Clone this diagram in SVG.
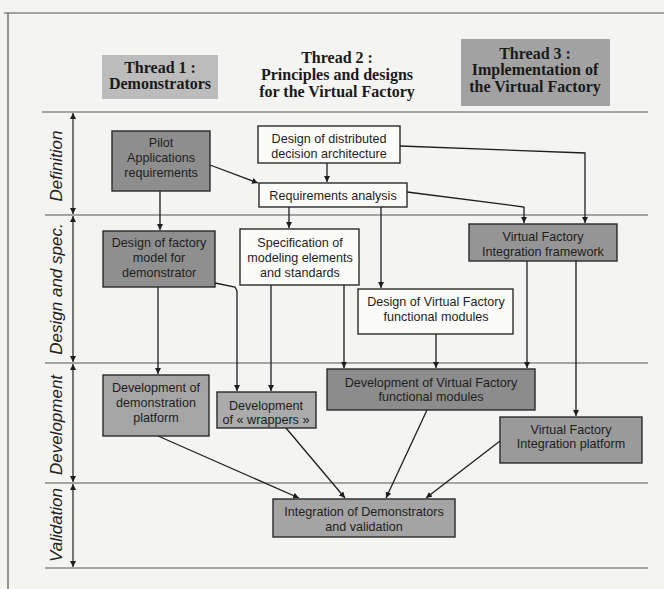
<svg xmlns="http://www.w3.org/2000/svg" width="664" height="589" viewBox="0 0 664 589">
<defs>
<marker id="ah" viewBox="0 0 10 10" refX="10" refY="5" markerWidth="6" markerHeight="6" markerUnits="userSpaceOnUse" orient="auto-start-reverse">
<path d="M0,0 L10,5 L0,10 z" fill="#1e1e1e"/>
</marker>
<style>
.bg{fill:#f4f4f2}
.frame{stroke:#555;stroke-width:1.2;fill:none}
.sep{stroke:#555;stroke-width:1;fill:none}
.lane{stroke:#222;stroke-width:1.2;fill:none;marker-start:url(#ah);marker-end:url(#ah)}
.lanelbl{font-family:"Liberation Sans",Arial,sans-serif;font-style:italic;font-size:17px;fill:#222;text-anchor:middle}
.hdr{font-family:"Liberation Serif","Times New Roman",serif;font-weight:bold;font-size:16px;fill:#1a1a1a;text-anchor:middle}
.box{stroke:#2a2a2a;stroke-width:1.4}
.white{fill:#fbfbfa}
.t{font-family:"Liberation Sans",Arial,sans-serif;font-size:12.6px;fill:#1e1e1e;text-anchor:middle}
.c{stroke:#1e1e1e;stroke-width:1.3;fill:none;marker-end:url(#ah)}
</style>
</defs>
<rect class="bg" x="0" y="0" width="664" height="589"/>
<line class="frame" x1="4" y1="13" x2="664" y2="13"/>
<line class="frame" x1="8" y1="13" x2="8" y2="589"/>

<g id="lanes">
<line class="sep" x1="42" y1="112" x2="648" y2="112"/>
<line class="sep" x1="45" y1="215" x2="648" y2="215"/>
<line class="sep" x1="45" y1="363" x2="648" y2="363"/>
<line class="sep" x1="45" y1="483" x2="648" y2="483"/>
<line class="sep" x1="45" y1="568" x2="648" y2="568"/>
<line class="lane" x1="73" y1="113" x2="73" y2="214"/>
<line class="lane" x1="73" y1="216" x2="73" y2="362"/>
<line class="lane" x1="73" y1="364" x2="73" y2="482"/>
<line class="lane" x1="73" y1="484" x2="73" y2="567"/>
<text class="lanelbl" transform="translate(62,166) rotate(-90)">Definition</text>
<text class="lanelbl" transform="translate(62,289) rotate(-90)">Design and spec.</text>
<text class="lanelbl" transform="translate(62,425) rotate(-90)">Development</text>
<text class="lanelbl" transform="translate(62,525) rotate(-90)">Validation</text>
</g>

<g id="thread1">
<rect x="102" y="55" width="116" height="44" fill="#bcbcbc"/>
<text class="hdr" x="160" y="73">Thread 1 :</text>
<text class="hdr" x="160" y="89">Demonstrators</text>
</g>
<g id="thread2">
<text class="hdr" x="337" y="63">Thread 2 :</text>
<text class="hdr" x="337" y="80">Principles and designs</text>
<text class="hdr" x="337" y="97">for the Virtual Factory</text>
</g>
<g id="thread3">
<rect x="461" y="39" width="149" height="67" fill="#a2a2a2"/>
<text class="hdr" x="535" y="59">Thread 3 :</text>
<text class="hdr" x="535" y="75">Implementation of</text>
<text class="hdr" x="535" y="92">the Virtual Factory</text>
</g>

<g id="connectors">
<path class="c" d="M160,191 L160,230"/>
<path class="c" d="M210,165 L258,183"/>
<path class="c" d="M327,163 L327,182"/>
<path class="c" d="M400,146 L585,153 L585,223"/>
<path class="c" d="M407,192 L524,207 L524,223"/>
<path class="c" d="M289,207 L289,228"/>
<path class="c" d="M381,207 L381,288"/>
<path class="c" d="M158,287 L158,374"/>
<path class="c" d="M215,283 L235,287 L237,291 L237,391"/>
<path class="c" d="M271,285 L271,391"/>
<path class="c" d="M344,285 L344,368"/>
<path class="c" d="M436,334 L436,368"/>
<path class="c" d="M527,261 L527,368"/>
<path class="c" d="M576,261 L576,416"/>
<path class="c" d="M158,436 L299,498"/>
<path class="c" d="M286,428 L345,498"/>
<path class="c" d="M427,410 L386,498"/>
<path class="c" d="M500,441 L426,498"/>
</g>

<g id="pilot">
<rect class="box" x="112" y="131" width="98" height="60" fill="#8e8e8e"/>
<text class="t" x="161" y="147">Pilot</text>
<text class="t" x="161" y="162">Applications</text>
<text class="t" x="161" y="177">requirements</text>
</g>
<g id="design-distributed">
<rect class="box white" x="258" y="126" width="142" height="37"/>
<text class="t" x="329" y="143">Design of distributed</text>
<text class="t" x="329" y="158">decision architecture</text>
</g>
<g id="requirements">
<rect class="box white" x="259" y="183" width="148" height="24"/>
<text class="t" x="333" y="200">Requirements analysis</text>
</g>
<g id="design-factory">
<rect class="box" x="103" y="231" width="112" height="56" fill="#8f8f8f"/>
<text class="t" x="159" y="247">Design of factory</text>
<text class="t" x="159" y="262">model for</text>
<text class="t" x="159" y="277">demonstrator</text>
</g>
<g id="specification">
<rect class="box white" x="240" y="229" width="119" height="56"/>
<text class="t" x="300" y="247">Specification of</text>
<text class="t" x="300" y="262">modeling elements</text>
<text class="t" x="300" y="277">and standards</text>
</g>
<g id="vf-framework">
<rect class="box" x="469" y="224" width="148" height="37" fill="#959595"/>
<text class="t" x="543" y="241">Virtual Factory</text>
<text class="t" x="543" y="256">Integration framework</text>
</g>
<g id="design-vf-modules">
<rect class="box white" x="358" y="289" width="155" height="45"/>
<text class="t" x="436" y="306">Design of Virtual Factory</text>
<text class="t" x="436" y="321">functional modules</text>
</g>
<g id="dev-demo">
<rect class="box" x="103" y="375" width="106" height="61" fill="#a5a5a5"/>
<text class="t" x="156" y="392">Development of</text>
<text class="t" x="156" y="407">demonstration</text>
<text class="t" x="156" y="422">platform</text>
</g>
<g id="dev-wrappers">
<rect class="box" x="217" y="392" width="99" height="36" fill="#ababab"/>
<text class="t" x="266" y="410">Development</text>
<text class="t" x="266" y="424">of « wrappers »</text>
</g>
<g id="dev-vf-modules">
<rect class="box" x="327" y="369" width="208" height="41" fill="#8c8c8c"/>
<text class="t" x="431" y="387">Development of Virtual Factory</text>
<text class="t" x="431" y="401">functional modules</text>
</g>
<g id="vf-platform">
<rect class="box" x="500" y="417" width="142" height="46" fill="#9a9a9a"/>
<text class="t" x="571" y="434">Virtual Factory</text>
<text class="t" x="571" y="448">Integration platform</text>
</g>
<g id="integration">
<rect class="box" x="273" y="499" width="182" height="38" fill="#a4a4a4"/>
<text class="t" x="364" y="516">Integration of Demonstrators</text>
<text class="t" x="364" y="531">and validation</text>
</g>
</svg>
